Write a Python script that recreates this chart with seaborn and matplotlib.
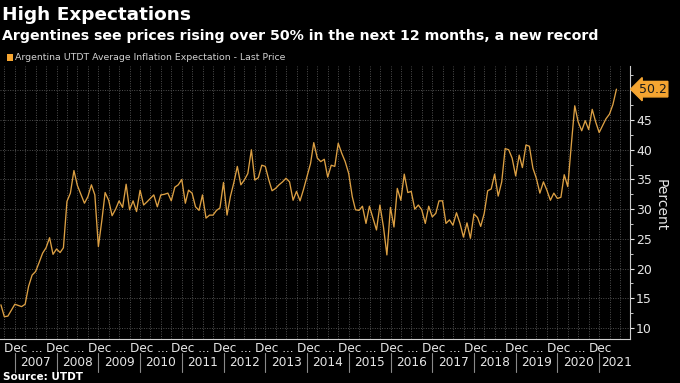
import numpy as np
import pandas as pd
import matplotlib
matplotlib.use("Agg")
import matplotlib.pyplot as plt
import matplotlib.dates as mdates
import matplotlib.transforms as mtransforms
from matplotlib.lines import Line2D
from matplotlib.ticker import FixedLocator, FuncFormatter
import seaborn as sns

# ---------------- data ----------------
first_month = "2006-08-31"
expectation = [
    13.9, 11.9, 12.0, 13.0, 14.0, 13.8, 13.6, 14.0, 17.0, 18.9,
    19.5, 21.0, 22.6, 23.5, 25.2, 22.4, 23.3, 22.7, 23.5, 31.3,
    32.7, 36.5, 34.0, 32.5, 31.0, 32.1, 34.1, 32.4, 23.7, 28.2,
    32.8, 31.5, 28.9, 30.0, 31.4, 30.3, 34.2, 29.9, 31.4, 29.6,
    33.2, 30.7, 31.2, 31.8, 32.4, 30.4, 32.4, 32.5, 32.7, 31.4,
    33.7, 34.1, 35.0, 31.0, 33.2, 32.7, 30.4, 29.8, 32.4, 28.5,
    29.0, 29.0, 29.8, 30.2, 34.5, 29.0, 32.1, 34.5, 37.2, 34.1,
    34.9, 36.0, 40.0, 34.9, 35.3, 37.4, 37.2, 34.9, 33.1, 33.5,
    34.1, 34.6, 35.2, 34.6, 31.5, 33.0, 31.4, 33.3, 35.5, 37.7,
    41.2, 38.6, 38.0, 38.4, 35.4, 37.4, 37.2, 41.1, 39.4, 38.0,
    36.0, 32.1, 29.9, 29.8, 30.5, 27.6, 30.5, 28.5, 26.5, 30.7,
    27.0, 22.3, 30.3, 27.0, 33.5, 31.5, 35.9, 32.8, 33.0, 30.0,
    30.7, 29.9, 27.6, 30.5, 28.7, 29.3, 31.4, 31.4, 27.6, 28.2,
    27.3, 29.4, 27.6, 25.3, 27.7, 25.1, 29.2, 28.6, 27.1, 29.3,
    33.1, 33.4, 35.9, 32.2, 34.6, 40.2, 40.0, 38.6, 35.6, 39.1,
    37.0, 40.8, 40.6, 36.9, 35.2, 32.7, 34.6, 33.2, 31.5, 32.7,
    31.8, 32.0, 35.8, 33.8, 40.6, 47.4, 44.7, 43.2, 44.9, 43.4,
    46.8, 44.7, 42.9, 44.1, 45.2, 46.0, 47.6, 50.2,
]
y_ticks = [10, 15, 20, 25, 30, 35, 40, 45, 50]
years = list(range(2007, 2022))
last_value_label = "50.2"
series_name = "Argentina UTDT Average Inflation Expectation - Last Price"
title = "High Expectations"
subtitle = "Argentines see prices rising over 50% in the next 12 months, a new record"
source = "Source: UTDT"

dates = pd.date_range(first_month, periods=len(expectation), freq="ME")
df = pd.DataFrame({"date": dates, "value": expectation})

# ---------------- style ----------------
BG = "#000000"
LINE = "#dca044"
ORANGE = "#f5a531"
GRID = "#505050"
TXT = "#e6e6e6"

sns.set_theme(style="dark")
plt.rcParams["font.family"] = ["DejaVu Sans"]

fig = plt.figure(figsize=(6.8, 3.83), dpi=100, facecolor=BG)
ax = fig.add_axes([0.0, 0.1149, 0.9272, 0.7128])
ax.set_facecolor(BG)

sns.lineplot(data=df, x="date", y="value", ax=ax, color=LINE, linewidth=0.95, legend=False)

x_left = pd.Timestamp("2006-08-23")
x_right = pd.Timestamp("2021-10-01")
ax.set_xlim(x_left, x_right)
ax.set_ylim(8.15, 54.1)

# grid
ax.xaxis.set_major_locator(mdates.MonthLocator(bymonth=[1, 4, 7, 10]))
ax.xaxis.set_major_formatter(FuncFormatter(lambda v, p: ""))
ax.tick_params(axis="x", length=0)
ax.yaxis.tick_right()
ax.yaxis.set_major_locator(FixedLocator(y_ticks))
ax.yaxis.set_minor_locator(FixedLocator([t + 2.5 for t in y_ticks] + [7.5]))
ax.yaxis.set_major_formatter(FuncFormatter(lambda v, p: "" if v >= 50 else f"{v:.0f}"))
ax.tick_params(axis="y", which="major", direction="out", length=3, width=0.8,
               colors=TXT, labelsize=9, pad=1, right=True, left=False)
ax.tick_params(axis="y", which="minor", direction="out", length=2, width=0.6,
               color=TXT, right=True, left=False)
ax.grid(True, which="major", axis="both", color=GRID, linestyle=(0, (1, 1.5)), linewidth=0.7)
ax.set_xlabel("")
ax.set_ylabel("")

for s in ["left", "top"]:
    ax.spines[s].set_visible(False)
for s in ["bottom", "right"]:
    ax.spines[s].set_visible(True)
    ax.spines[s].set_color("#cfcfcf")
    ax.spines[s].set_linewidth(0.8)

# last value badge
blend = mtransforms.blended_transform_factory(ax.transAxes, ax.transData)
ax.annotate(last_value_label, xy=(1.0, expectation[-1]), xycoords=blend,
            xytext=(1.013, expectation[-1]), textcoords=blend,
            ha="left", va="center", fontsize=9, color="#1a1a1a",
            bbox=dict(boxstyle="larrow,pad=0.1", fc=ORANGE, ec=ORANGE))

# two-level x labels
trans = mtransforms.blended_transform_factory(ax.transData, fig.transFigure)
for yr in years:
    dec_x = mdates.date2num(pd.Timestamp(f"{yr-1}-10-01"))
    fig.text(dec_x, 0.091, "Dec ..." if yr < years[-1] else "Dec", transform=trans,
             ha="left", va="center", fontsize=8.7, color=TXT)
    sep_x = mdates.date2num(pd.Timestamp(f"{yr}-01-01"))
    fig.add_artist(Line2D([sep_x, sep_x], [0.030, 0.078], transform=trans,
                          color="#8a8a8a", linewidth=0.8))
    if yr < years[-1]:
        mid = mdates.date2num(pd.Timestamp(f"{yr}-07-02"))
    else:
        mid = sep_x + (mdates.date2num(x_right) - sep_x) * 0.55
    fig.text(mid, 0.054, str(yr), transform=trans, ha="center", va="center",
             fontsize=8.7, color=TXT)

# titles and legend
fig.text(0.003, 0.960, title, ha="left", va="center", fontsize=13.3, fontweight="bold", color="white")
fig.text(0.003, 0.906, subtitle, ha="left", va="center", fontsize=10.15, fontweight="bold", color="white")
fig.patches.append(plt.Rectangle((0.010, 0.842), 0.009, 0.018, transform=fig.transFigure,
                                 facecolor=ORANGE, edgecolor="none"))
fig.text(0.022, 0.851, series_name, ha="left", va="center", fontsize=6.75, color="#d0d0d0")
fig.text(0.971, 0.465, "Percent", ha="center", va="center", rotation=270, fontsize=10, color=TXT)
fig.text(0.004, 0.016, source, ha="left", va="center", fontsize=7.5, fontweight="bold", color="white")

fig.savefig("out.png", dpi=100, facecolor=BG)
